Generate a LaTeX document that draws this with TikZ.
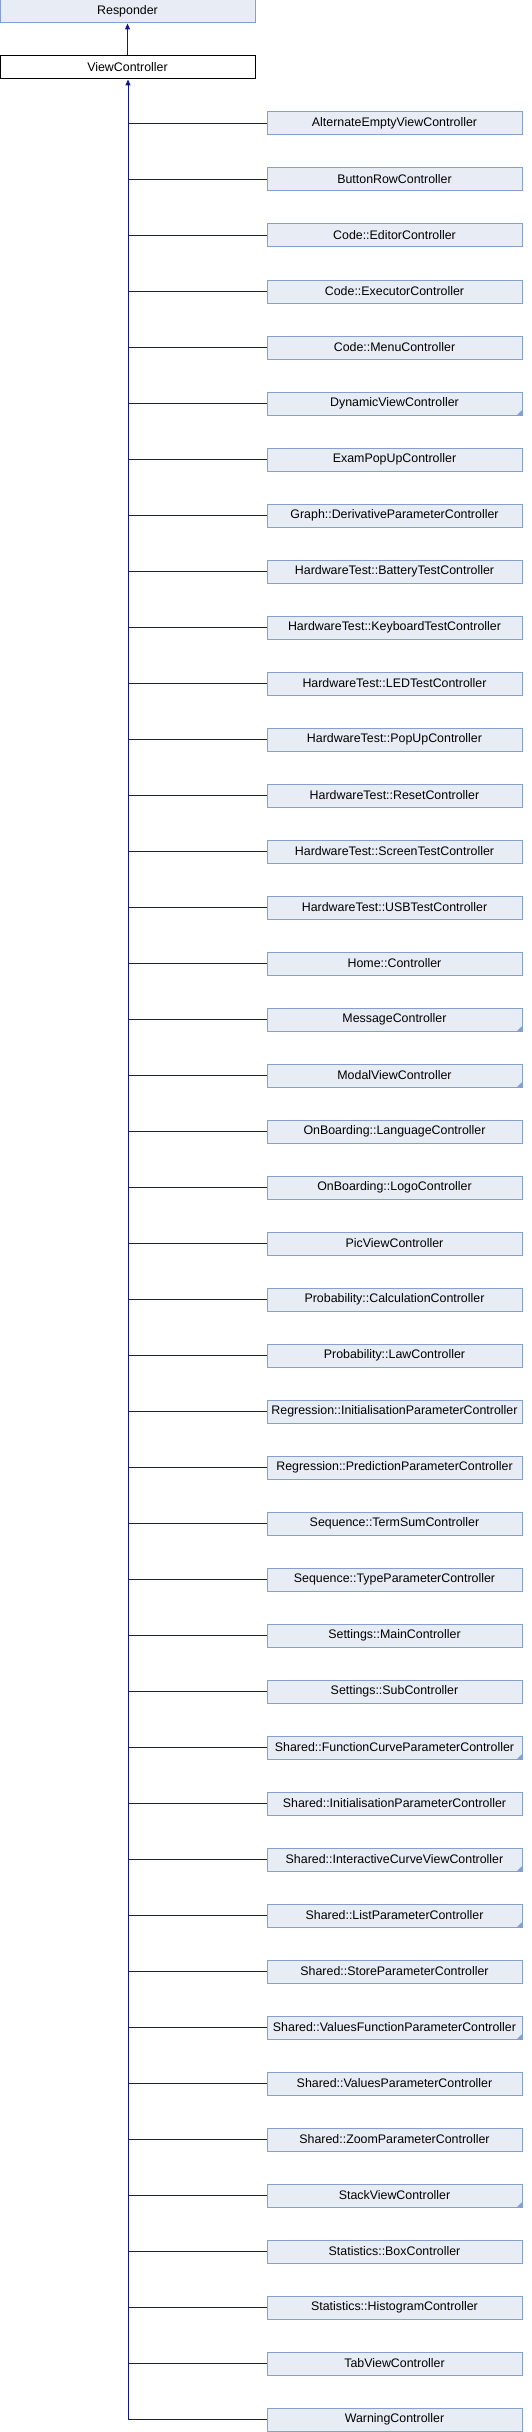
\documentclass[tikz,border=0pt]{standalone}
\usepackage{fontspec}
\setmainfont{Liberation Sans}
\usetikzlibrary{arrows.meta}

\definecolor{boxfill}{RGB}{232,236,245}
\definecolor{boxline}{RGB}{132,160,207}
\definecolor{linkline}{RGB}{20,20,140}

\tikzset{
  classbox/.style={draw=boxline, fill=boxfill, line width=1pt, minimum width=255pt,
    minimum height=23pt, inner sep=0pt, font=\fontsize{12.4}{14}\selectfont},
  thisbox/.style={classbox, draw=black, fill=white},
  link/.style={draw=linkline, line width=1pt},
  inherit/.style={link, -{Triangle[width=5pt,length=6pt]}}
}

\begin{document}
\begin{tikzpicture}[x=1pt,y=-1pt]

\useasboundingbox (0,0) rectangle (532,2432);

% base classes
\node[classbox] (responder) at (127.5,11.5) {Responder};
\node[thisbox] (viewctrl) at (127.5,67.5) {ViewController};
\draw[inherit] (viewctrl) -- (responder);

% derived classes, a corner mark means the class has more children
\coordinate (trunkend) at (128,2420);
\draw[inherit] (trunkend) -- (viewctrl.south -| trunkend);

\foreach \name/\more [count=\i] in {
  AlternateEmptyViewController/0,
  ButtonRowController/0,
  Code::EditorController/0,
  Code::ExecutorController/0,
  Code::MenuController/0,
  DynamicViewController/1,
  ExamPopUpController/0,
  Graph::DerivativeParameterController/0,
  HardwareTest::BatteryTestController/0,
  HardwareTest::KeyboardTestController/0,
  HardwareTest::LEDTestController/0,
  HardwareTest::PopUpController/0,
  HardwareTest::ResetController/0,
  HardwareTest::ScreenTestController/0,
  HardwareTest::USBTestController/0,
  Home::Controller/0,
  MessageController/1,
  ModalViewController/1,
  OnBoarding::LanguageController/0,
  OnBoarding::LogoController/0,
  PicViewController/0,
  Probability::CalculationController/0,
  Probability::LawController/0,
  Regression::InitialisationParameterController/0,
  Regression::PredictionParameterController/0,
  Sequence::TermSumController/0,
  Sequence::TypeParameterController/0,
  Settings::MainController/0,
  Settings::SubController/0,
  Shared::FunctionCurveParameterController/1,
  Shared::InitialisationParameterController/0,
  Shared::InteractiveCurveViewController/1,
  Shared::ListParameterController/1,
  Shared::StoreParameterController/0,
  Shared::ValuesFunctionParameterController/1,
  Shared::ValuesParameterController/0,
  Shared::ZoomParameterController/0,
  StackViewController/1,
  Statistics::BoxController/0,
  Statistics::HistogramController/0,
  TabViewController/0,
  WarningController/0}
{
  \pgfmathsetmacro{\ypos}{123.5+56*(\i-1)}
  \node[classbox] (child\i) at (394.5,\ypos) {\name};
  \coordinate (tap\i) at (128,\ypos);
  \draw[link] (tap\i) -- (child\i.west);
  \ifnum\more=1
    \fill[boxline] ([xshift=-0.5pt,yshift=0.5pt]child\i.south east) -- ++(0,-5) -- ++(-5,5) -- cycle;
  \fi
}

\end{tikzpicture}
\end{document}
